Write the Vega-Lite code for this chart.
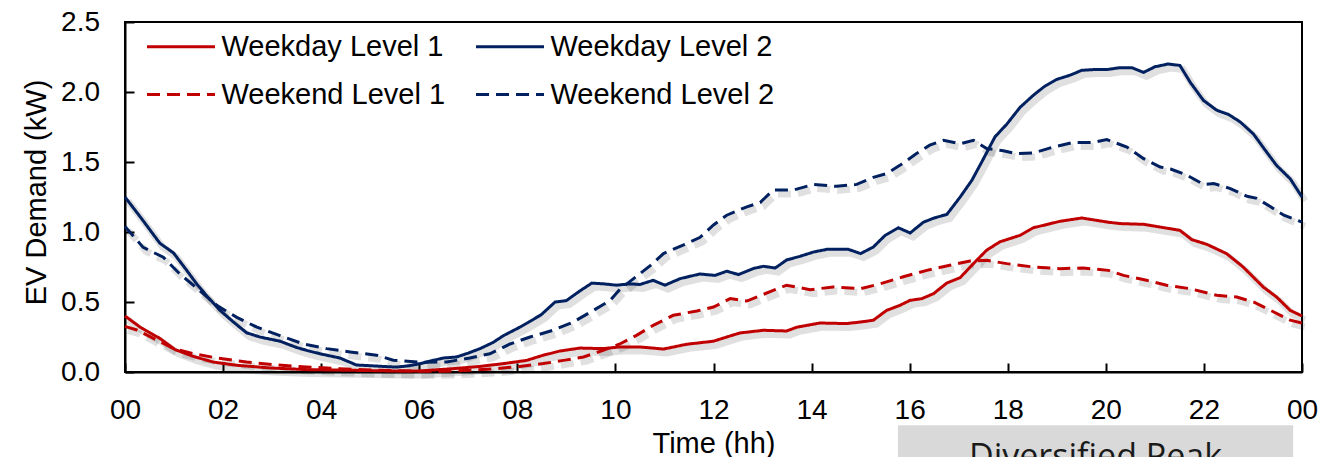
{
  "$schema": "https://vega.github.io/schema/vega-lite/v6.json",
  "width": 1177,
  "height": 350,
  "autosize": {"type": "none"},
  "padding": {"left": 125, "top": 22, "right": 27, "bottom": 85},
  "background": "white",
  "config": {
    "view": {"stroke": "#000", "strokeWidth": 2},
    "font": "Liberation Sans",
    "axis": {
      "grid": false,
      "domainColor": "#000",
      "domainWidth": 2,
      "tickColor": "#000",
      "tickWidth": 2,
      "tickSize": -9,
      "labelColor": "#000",
      "labelFont": "Liberation Sans",
      "labelFontSize": 28,
      "labelFlush": false,
      "labelOverlap": false,
      "titleColor": "#000",
      "titleFont": "Liberation Sans",
      "titleFontSize": 29,
      "titleFontWeight": "normal"
    }
  },
  "datasets": {
    "curves": [
      {"h":0,"kw":0.40,"s":"Weekday Level 1"},{"h":0.31,"kw":0.32,"s":"Weekday Level 1"},{"h":0.71,"kw":0.24,"s":"Weekday Level 1"},{"h":1.02,"kw":0.16,"s":"Weekday Level 1"},{"h":1.39,"kw":0.112,"s":"Weekday Level 1"},{"h":1.8,"kw":0.071,"s":"Weekday Level 1"},{"h":2.28,"kw":0.048,"s":"Weekday Level 1"},{"h":2.96,"kw":0.029,"s":"Weekday Level 1"},{"h":3.7,"kw":0.017,"s":"Weekday Level 1"},{"h":4.66,"kw":0.012,"s":"Weekday Level 1"},{"h":5.5,"kw":0.007,"s":"Weekday Level 1"},{"h":6.0,"kw":0.007,"s":"Weekday Level 1"},{"h":6.69,"kw":0.024,"s":"Weekday Level 1"},{"h":7.24,"kw":0.04,"s":"Weekday Level 1"},{"h":7.72,"kw":0.06,"s":"Weekday Level 1"},{"h":8.19,"kw":0.083,"s":"Weekday Level 1"},{"h":8.53,"kw":0.12,"s":"Weekday Level 1"},{"h":8.87,"kw":0.15,"s":"Weekday Level 1"},{"h":9.28,"kw":0.171,"s":"Weekday Level 1"},{"h":9.75,"kw":0.167,"s":"Weekday Level 1"},{"h":10.09,"kw":0.179,"s":"Weekday Level 1"},{"h":10.5,"kw":0.179,"s":"Weekday Level 1"},{"h":10.98,"kw":0.164,"s":"Weekday Level 1"},{"h":11.45,"kw":0.198,"s":"Weekday Level 1"},{"h":12.0,"kw":0.22,"s":"Weekday Level 1"},{"h":12.27,"kw":0.25,"s":"Weekday Level 1"},{"h":12.54,"kw":0.279,"s":"Weekday Level 1"},{"h":13.02,"kw":0.298,"s":"Weekday Level 1"},{"h":13.49,"kw":0.293,"s":"Weekday Level 1"},{"h":13.7,"kw":0.32,"s":"Weekday Level 1"},{"h":14.17,"kw":0.35,"s":"Weekday Level 1"},{"h":14.71,"kw":0.346,"s":"Weekday Level 1"},{"h":15.0,"kw":0.357,"s":"Weekday Level 1"},{"h":15.26,"kw":0.37,"s":"Weekday Level 1"},{"h":15.53,"kw":0.44,"s":"Weekday Level 1"},{"h":15.8,"kw":0.476,"s":"Weekday Level 1"},{"h":16.01,"kw":0.512,"s":"Weekday Level 1"},{"h":16.25,"kw":0.524,"s":"Weekday Level 1"},{"h":16.49,"kw":0.56,"s":"Weekday Level 1"},{"h":16.76,"kw":0.636,"s":"Weekday Level 1"},{"h":17.03,"kw":0.674,"s":"Weekday Level 1"},{"h":17.3,"kw":0.774,"s":"Weekday Level 1"},{"h":17.57,"kw":0.87,"s":"Weekday Level 1"},{"h":17.84,"kw":0.93,"s":"Weekday Level 1"},{"h":18.25,"kw":0.976,"s":"Weekday Level 1"},{"h":18.52,"kw":1.03,"s":"Weekday Level 1"},{"h":19.06,"kw":1.076,"s":"Weekday Level 1"},{"h":19.51,"kw":1.10,"s":"Weekday Level 1"},{"h":20.05,"kw":1.07,"s":"Weekday Level 1"},{"h":20.29,"kw":1.06,"s":"Weekday Level 1"},{"h":20.77,"kw":1.055,"s":"Weekday Level 1"},{"h":21.51,"kw":1.012,"s":"Weekday Level 1"},{"h":21.75,"kw":0.946,"s":"Weekday Level 1"},{"h":22.06,"kw":0.912,"s":"Weekday Level 1"},{"h":22.46,"kw":0.846,"s":"Weekday Level 1"},{"h":22.8,"kw":0.75,"s":"Weekday Level 1"},{"h":23.21,"kw":0.607,"s":"Weekday Level 1"},{"h":23.48,"kw":0.536,"s":"Weekday Level 1"},{"h":23.76,"kw":0.44,"s":"Weekday Level 1"},{"h":24,"kw":0.40,"s":"Weekday Level 1"},

      {"h":0,"kw":0.326,"s":"Weekend Level 1"},{"h":0.24,"kw":0.30,"s":"Weekend Level 1"},{"h":0.58,"kw":0.24,"s":"Weekend Level 1"},{"h":0.99,"kw":0.167,"s":"Weekend Level 1"},{"h":1.39,"kw":0.131,"s":"Weekend Level 1"},{"h":1.87,"kw":0.10,"s":"Weekend Level 1"},{"h":2.48,"kw":0.071,"s":"Weekend Level 1"},{"h":3.02,"kw":0.053,"s":"Weekend Level 1"},{"h":3.7,"kw":0.036,"s":"Weekend Level 1"},{"h":4.38,"kw":0.024,"s":"Weekend Level 1"},{"h":5.2,"kw":0.012,"s":"Weekend Level 1"},{"h":6.0,"kw":0.005,"s":"Weekend Level 1"},{"h":6.5,"kw":0.005,"s":"Weekend Level 1"},{"h":7.03,"kw":0.012,"s":"Weekend Level 1"},{"h":7.58,"kw":0.024,"s":"Weekend Level 1"},{"h":8.05,"kw":0.04,"s":"Weekend Level 1"},{"h":8.53,"kw":0.06,"s":"Weekend Level 1"},{"h":8.94,"kw":0.083,"s":"Weekend Level 1"},{"h":9.35,"kw":0.107,"s":"Weekend Level 1"},{"h":9.75,"kw":0.155,"s":"Weekend Level 1"},{"h":10.09,"kw":0.20,"s":"Weekend Level 1"},{"h":10.43,"kw":0.262,"s":"Weekend Level 1"},{"h":10.77,"kw":0.333,"s":"Weekend Level 1"},{"h":11.18,"kw":0.405,"s":"Weekend Level 1"},{"h":11.66,"kw":0.436,"s":"Weekend Level 1"},{"h":12.0,"kw":0.464,"s":"Weekend Level 1"},{"h":12.34,"kw":0.524,"s":"Weekend Level 1"},{"h":12.68,"kw":0.507,"s":"Weekend Level 1"},{"h":13.02,"kw":0.555,"s":"Weekend Level 1"},{"h":13.49,"kw":0.62,"s":"Weekend Level 1"},{"h":13.97,"kw":0.588,"s":"Weekend Level 1"},{"h":14.44,"kw":0.607,"s":"Weekend Level 1"},{"h":14.99,"kw":0.595,"s":"Weekend Level 1"},{"h":15.4,"kw":0.63,"s":"Weekend Level 1"},{"h":15.87,"kw":0.68,"s":"Weekend Level 1"},{"h":16.35,"kw":0.726,"s":"Weekend Level 1"},{"h":16.82,"kw":0.762,"s":"Weekend Level 1"},{"h":17.23,"kw":0.793,"s":"Weekend Level 1"},{"h":17.57,"kw":0.798,"s":"Weekend Level 1"},{"h":17.98,"kw":0.774,"s":"Weekend Level 1"},{"h":18.52,"kw":0.75,"s":"Weekend Level 1"},{"h":19.06,"kw":0.738,"s":"Weekend Level 1"},{"h":19.54,"kw":0.743,"s":"Weekend Level 1"},{"h":20.05,"kw":0.726,"s":"Weekend Level 1"},{"h":20.36,"kw":0.69,"s":"Weekend Level 1"},{"h":20.83,"kw":0.655,"s":"Weekend Level 1"},{"h":21.24,"kw":0.62,"s":"Weekend Level 1"},{"h":21.72,"kw":0.595,"s":"Weekend Level 1"},{"h":22.26,"kw":0.548,"s":"Weekend Level 1"},{"h":22.67,"kw":0.536,"s":"Weekend Level 1"},{"h":23.01,"kw":0.50,"s":"Weekend Level 1"},{"h":23.36,"kw":0.44,"s":"Weekend Level 1"},{"h":23.76,"kw":0.37,"s":"Weekend Level 1"},{"h":24,"kw":0.35,"s":"Weekend Level 1"},

      {"h":0,"kw":1.25,"s":"Weekday Level 2"},{"h":0.35,"kw":1.09,"s":"Weekday Level 2"},{"h":0.71,"kw":0.92,"s":"Weekday Level 2"},{"h":0.99,"kw":0.85,"s":"Weekday Level 2"},{"h":1.25,"kw":0.73,"s":"Weekday Level 2"},{"h":1.46,"kw":0.63,"s":"Weekday Level 2"},{"h":1.7,"kw":0.53,"s":"Weekday Level 2"},{"h":1.94,"kw":0.44,"s":"Weekday Level 2"},{"h":2.2,"kw":0.36,"s":"Weekday Level 2"},{"h":2.48,"kw":0.28,"s":"Weekday Level 2"},{"h":2.75,"kw":0.25,"s":"Weekday Level 2"},{"h":3.16,"kw":0.22,"s":"Weekday Level 2"},{"h":3.5,"kw":0.175,"s":"Weekday Level 2"},{"h":3.75,"kw":0.15,"s":"Weekday Level 2"},{"h":3.98,"kw":0.13,"s":"Weekday Level 2"},{"h":4.38,"kw":0.10,"s":"Weekday Level 2"},{"h":4.72,"kw":0.05,"s":"Weekday Level 2"},{"h":5.0,"kw":0.045,"s":"Weekday Level 2"},{"h":5.25,"kw":0.04,"s":"Weekday Level 2"},{"h":5.54,"kw":0.035,"s":"Weekday Level 2"},{"h":5.8,"kw":0.045,"s":"Weekday Level 2"},{"h":6.02,"kw":0.06,"s":"Weekday Level 2"},{"h":6.25,"kw":0.08,"s":"Weekday Level 2"},{"h":6.49,"kw":0.10,"s":"Weekday Level 2"},{"h":6.76,"kw":0.107,"s":"Weekday Level 2"},{"h":7.0,"kw":0.135,"s":"Weekday Level 2"},{"h":7.24,"kw":0.167,"s":"Weekday Level 2"},{"h":7.5,"kw":0.21,"s":"Weekday Level 2"},{"h":7.72,"kw":0.26,"s":"Weekday Level 2"},{"h":8.05,"kw":0.32,"s":"Weekday Level 2"},{"h":8.25,"kw":0.36,"s":"Weekday Level 2"},{"h":8.49,"kw":0.41,"s":"Weekday Level 2"},{"h":8.77,"kw":0.50,"s":"Weekday Level 2"},{"h":9.0,"kw":0.51,"s":"Weekday Level 2"},{"h":9.28,"kw":0.58,"s":"Weekday Level 2"},{"h":9.52,"kw":0.635,"s":"Weekday Level 2"},{"h":9.75,"kw":0.63,"s":"Weekday Level 2"},{"h":10.02,"kw":0.62,"s":"Weekday Level 2"},{"h":10.3,"kw":0.63,"s":"Weekday Level 2"},{"h":10.5,"kw":0.625,"s":"Weekday Level 2"},{"h":10.77,"kw":0.655,"s":"Weekday Level 2"},{"h":11.01,"kw":0.62,"s":"Weekday Level 2"},{"h":11.32,"kw":0.667,"s":"Weekday Level 2"},{"h":11.72,"kw":0.70,"s":"Weekday Level 2"},{"h":12.03,"kw":0.69,"s":"Weekday Level 2"},{"h":12.27,"kw":0.72,"s":"Weekday Level 2"},{"h":12.51,"kw":0.696,"s":"Weekday Level 2"},{"h":12.82,"kw":0.74,"s":"Weekday Level 2"},{"h":13.02,"kw":0.755,"s":"Weekday Level 2"},{"h":13.26,"kw":0.743,"s":"Weekday Level 2"},{"h":13.49,"kw":0.80,"s":"Weekday Level 2"},{"h":13.76,"kw":0.826,"s":"Weekday Level 2"},{"h":14.04,"kw":0.857,"s":"Weekday Level 2"},{"h":14.31,"kw":0.876,"s":"Weekday Level 2"},{"h":14.75,"kw":0.876,"s":"Weekday Level 2"},{"h":15.0,"kw":0.846,"s":"Weekday Level 2"},{"h":15.26,"kw":0.893,"s":"Weekday Level 2"},{"h":15.5,"kw":0.976,"s":"Weekday Level 2"},{"h":15.77,"kw":1.03,"s":"Weekday Level 2"},{"h":16.01,"kw":0.993,"s":"Weekday Level 2"},{"h":16.28,"kw":1.07,"s":"Weekday Level 2"},{"h":16.5,"kw":1.10,"s":"Weekday Level 2"},{"h":16.76,"kw":1.126,"s":"Weekday Level 2"},{"h":17.03,"kw":1.25,"s":"Weekday Level 2"},{"h":17.27,"kw":1.37,"s":"Weekday Level 2"},{"h":17.5,"kw":1.52,"s":"Weekday Level 2"},{"h":17.74,"kw":1.68,"s":"Weekday Level 2"},{"h":17.98,"kw":1.77,"s":"Weekday Level 2"},{"h":18.25,"kw":1.89,"s":"Weekday Level 2"},{"h":18.52,"kw":1.976,"s":"Weekday Level 2"},{"h":18.75,"kw":2.04,"s":"Weekday Level 2"},{"h":19.0,"kw":2.09,"s":"Weekday Level 2"},{"h":19.27,"kw":2.12,"s":"Weekday Level 2"},{"h":19.51,"kw":2.155,"s":"Weekday Level 2"},{"h":19.75,"kw":2.16,"s":"Weekday Level 2"},{"h":20.02,"kw":2.16,"s":"Weekday Level 2"},{"h":20.29,"kw":2.174,"s":"Weekday Level 2"},{"h":20.53,"kw":2.174,"s":"Weekday Level 2"},{"h":20.77,"kw":2.14,"s":"Weekday Level 2"},{"h":21.0,"kw":2.18,"s":"Weekday Level 2"},{"h":21.27,"kw":2.2,"s":"Weekday Level 2"},{"h":21.51,"kw":2.19,"s":"Weekday Level 2"},{"h":21.72,"kw":2.07,"s":"Weekday Level 2"},{"h":21.99,"kw":1.94,"s":"Weekday Level 2"},{"h":22.26,"kw":1.87,"s":"Weekday Level 2"},{"h":22.5,"kw":1.84,"s":"Weekday Level 2"},{"h":22.74,"kw":1.786,"s":"Weekday Level 2"},{"h":23.01,"kw":1.70,"s":"Weekday Level 2"},{"h":23.28,"kw":1.57,"s":"Weekday Level 2"},{"h":23.48,"kw":1.476,"s":"Weekday Level 2"},{"h":23.76,"kw":1.38,"s":"Weekday Level 2"},{"h":24,"kw":1.25,"s":"Weekday Level 2"},

      {"h":0,"kw":1.04,"s":"Weekend Level 2"},{"h":0.37,"kw":0.89,"s":"Weekend Level 2"},{"h":0.78,"kw":0.82,"s":"Weekend Level 2"},{"h":1.12,"kw":0.70,"s":"Weekend Level 2"},{"h":1.53,"kw":0.58,"s":"Weekend Level 2"},{"h":1.87,"kw":0.476,"s":"Weekend Level 2"},{"h":2.28,"kw":0.39,"s":"Weekend Level 2"},{"h":2.69,"kw":0.32,"s":"Weekend Level 2"},{"h":3.16,"kw":0.26,"s":"Weekend Level 2"},{"h":3.64,"kw":0.20,"s":"Weekend Level 2"},{"h":4.11,"kw":0.167,"s":"Weekend Level 2"},{"h":4.59,"kw":0.143,"s":"Weekend Level 2"},{"h":5.13,"kw":0.12,"s":"Weekend Level 2"},{"h":5.47,"kw":0.084,"s":"Weekend Level 2"},{"h":6.02,"kw":0.07,"s":"Weekend Level 2"},{"h":6.56,"kw":0.072,"s":"Weekend Level 2"},{"h":7.03,"kw":0.10,"s":"Weekend Level 2"},{"h":7.44,"kw":0.13,"s":"Weekend Level 2"},{"h":7.85,"kw":0.20,"s":"Weekend Level 2"},{"h":8.26,"kw":0.25,"s":"Weekend Level 2"},{"h":8.73,"kw":0.298,"s":"Weekend Level 2"},{"h":9.14,"kw":0.357,"s":"Weekend Level 2"},{"h":9.55,"kw":0.44,"s":"Weekend Level 2"},{"h":9.89,"kw":0.51,"s":"Weekend Level 2"},{"h":10.09,"kw":0.59,"s":"Weekend Level 2"},{"h":10.37,"kw":0.667,"s":"Weekend Level 2"},{"h":10.71,"kw":0.76,"s":"Weekend Level 2"},{"h":10.98,"kw":0.846,"s":"Weekend Level 2"},{"h":11.45,"kw":0.917,"s":"Weekend Level 2"},{"h":11.72,"kw":0.96,"s":"Weekend Level 2"},{"h":12.0,"kw":1.05,"s":"Weekend Level 2"},{"h":12.27,"kw":1.12,"s":"Weekend Level 2"},{"h":12.68,"kw":1.18,"s":"Weekend Level 2"},{"h":12.95,"kw":1.21,"s":"Weekend Level 2"},{"h":13.22,"kw":1.30,"s":"Weekend Level 2"},{"h":13.63,"kw":1.30,"s":"Weekend Level 2"},{"h":14.04,"kw":1.34,"s":"Weekend Level 2"},{"h":14.51,"kw":1.326,"s":"Weekend Level 2"},{"h":14.92,"kw":1.34,"s":"Weekend Level 2"},{"h":15.26,"kw":1.39,"s":"Weekend Level 2"},{"h":15.53,"kw":1.417,"s":"Weekend Level 2"},{"h":15.8,"kw":1.476,"s":"Weekend Level 2"},{"h":16.14,"kw":1.56,"s":"Weekend Level 2"},{"h":16.41,"kw":1.62,"s":"Weekend Level 2"},{"h":16.69,"kw":1.655,"s":"Weekend Level 2"},{"h":17.03,"kw":1.63,"s":"Weekend Level 2"},{"h":17.3,"kw":1.655,"s":"Weekend Level 2"},{"h":17.57,"kw":1.596,"s":"Weekend Level 2"},{"h":17.91,"kw":1.58,"s":"Weekend Level 2"},{"h":18.18,"kw":1.56,"s":"Weekend Level 2"},{"h":18.52,"kw":1.564,"s":"Weekend Level 2"},{"h":18.93,"kw":1.607,"s":"Weekend Level 2"},{"h":19.34,"kw":1.64,"s":"Weekend Level 2"},{"h":19.75,"kw":1.64,"s":"Weekend Level 2"},{"h":20.02,"kw":1.66,"s":"Weekend Level 2"},{"h":20.43,"kw":1.607,"s":"Weekend Level 2"},{"h":20.77,"kw":1.524,"s":"Weekend Level 2"},{"h":21.11,"kw":1.464,"s":"Weekend Level 2"},{"h":21.32,"kw":1.45,"s":"Weekend Level 2"},{"h":21.66,"kw":1.405,"s":"Weekend Level 2"},{"h":21.99,"kw":1.34,"s":"Weekend Level 2"},{"h":22.2,"kw":1.346,"s":"Weekend Level 2"},{"h":22.54,"kw":1.31,"s":"Weekend Level 2"},{"h":22.88,"kw":1.255,"s":"Weekend Level 2"},{"h":23.08,"kw":1.24,"s":"Weekend Level 2"},{"h":23.36,"kw":1.18,"s":"Weekend Level 2"},{"h":23.63,"kw":1.12,"s":"Weekend Level 2"},{"h":24,"kw":1.07,"s":"Weekend Level 2"}
    ],
    "notes": [
      {"start": 15.76, "end": 23.82, "label": "Diversified Peak"}
    ]
  },
  "layer": [
    {
      "data": {"name": "notes"},
      "mark": {"type": "rect", "fill": "#D9D9D9", "clip": false},
      "encoding": {
        "x": {"field": "start", "type": "quantitative", "scale": {"domain": [0, 24], "nice": false}},
        "x2": {"field": "end"},
        "y": {"datum": -0.381},
        "y2": {"datum": -1.2}
      }
    },
    {
      "data": {"name": "notes"},
      "mark": {"type": "text", "font": "Open Sans", "fontSize": 34, "color": "#1a1a1a", "align": "center", "baseline": "alphabetic", "clip": false},
      "encoding": {
        "x": {"datum": 19.79},
        "y": {"datum": -0.684},
        "text": {"field": "label"}
      }
    },
    {
      "data": {"name": "curves"},
      "transform": [{"filter": "indexof(datum.s, 'Weekday') >= 0"}],
      "mark": {"type": "line", "stroke": "#000", "opacity": 0.12, "strokeWidth": 7, "xOffset": 3, "yOffset": 4},
      "encoding": {
        "x": {"field": "h", "type": "quantitative"},
        "y": {"field": "kw", "type": "quantitative"},
        "detail": {"field": "s"}
      }
    },
    {
      "data": {"name": "curves"},
      "transform": [{"filter": "indexof(datum.s, 'Weekend') >= 0"}],
      "mark": {"type": "line", "stroke": "#000", "opacity": 0.12, "strokeWidth": 7, "xOffset": 3, "yOffset": 4, "strokeDash": [13, 7]},
      "encoding": {
        "x": {"field": "h", "type": "quantitative"},
        "y": {"field": "kw", "type": "quantitative"},
        "detail": {"field": "s"}
      }
    },
    {
      "data": {"name": "curves"},
      "mark": {"type": "line", "strokeWidth": 3},
      "encoding": {
        "x": {
          "field": "h",
          "type": "quantitative",
          "scale": {"domain": [0, 24], "nice": false},
          "axis": {
            "values": [0, 2, 4, 6, 8, 10, 12, 14, 16, 18, 20, 22, 24],
            "labelExpr": "datum.value == 24 ? '00' : (datum.value < 10 ? '0' + datum.value : '' + datum.value)",
            "labelPadding": 33,
            "title": "Time (hh)",
            "titleY": 80,
            "titleBaseline": "alphabetic"
          }
        },
        "y": {
          "field": "kw",
          "type": "quantitative",
          "scale": {"domain": [0, 2.5], "nice": false},
          "axis": {
            "values": [0, 0.5, 1, 1.5, 2, 2.5],
            "format": ".1f",
            "labelPadding": 34.5,
            "title": "EV Demand (kW)",
            "titleX": -80,
            "titleY": 170,
            "titleAngle": -90,
            "titleBaseline": "alphabetic",
            "titleAlign": "center"
          }
        },
        "color": {
          "field": "s",
          "type": "nominal",
          "scale": {
            "domain": ["Weekday Level 1", "Weekday Level 2", "Weekend Level 1", "Weekend Level 2"],
            "range": ["#C00000", "#002060", "#C00000", "#002060"]
          },
          "legend": {
            "title": null, "orient": "none", "direction": "horizontal", "legendX": 22, "legendY": 10, "columns": 2,
            "symbolType": "M0,0H10", "symbolSize": 185, "symbolStrokeWidth": 3, "symbolOffset": -14.5,
            "labelOffset": 60, "labelFontSize": 29, "labelFont": "Liberation Sans", "labelColor": "#000",
            "labelLimit": 400, "columnPadding": 24, "rowPadding": 18, "padding": 0
          }
        },
        "strokeDash": {
          "field": "s",
          "type": "nominal",
          "scale": {
            "domain": ["Weekday Level 1", "Weekday Level 2", "Weekend Level 1", "Weekend Level 2"],
            "range": [[1, 0], [1, 0], [13, 7], [13, 7]]
          },
          "legend": {
            "title": null, "orient": "none", "direction": "horizontal", "legendX": 22, "legendY": 10, "columns": 2,
            "symbolType": "M0,0H10", "symbolSize": 185, "symbolStrokeWidth": 3, "symbolOffset": -14.5,
            "labelOffset": 60, "labelFontSize": 29, "labelFont": "Liberation Sans", "labelColor": "#000",
            "labelLimit": 400, "columnPadding": 24, "rowPadding": 18, "padding": 0
          }
        }
      }
    }
  ]
}
